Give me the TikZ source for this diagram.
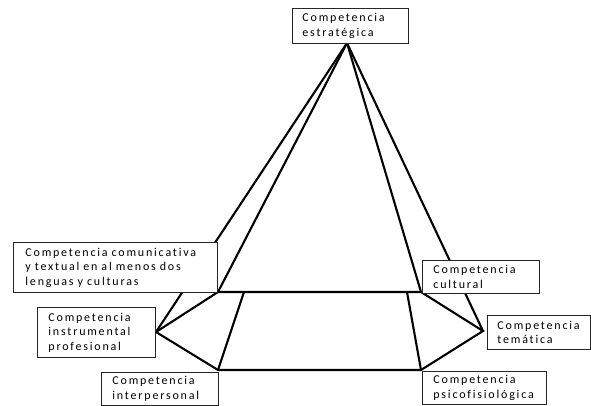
\documentclass[tikz,border=0pt]{standalone}
\usepackage{fontspec}
\setmainfont{Carlito}[LetterSpace=15, Ligatures={NoCommon}]
\begin{document}
\begin{tikzpicture}[x=1pt,y=-1pt,
  lbl/.style={draw=black!85, line width=0.9pt, fill=white, anchor=north west,
    align=left, font=\fontsize{12}{14.5}\selectfont, inner ysep=0pt},
  edge/.style={line width=2.1pt, line join=miter, line cap=round}]
\useasboundingbox (0,0) rectangle (591,406);

% corners of the base
\coordinate (apex) at (347,43);
\coordinate (tl) at (218,292);
\coordinate (tr) at (421,292);
\coordinate (bl) at (218,370);
\coordinate (br) at (421,370);
\coordinate (lv) at (156,332);
\coordinate (rv) at (483,331);
\coordinate (itl) at (244,292);
\coordinate (itr) at (407,292);

% faces of the pyramid
\draw[edge] (apex) -- (lv);
\draw[edge] (apex) -- (tl);
\draw[edge] (apex) -- (tr);
\draw[edge] (apex) -- (rv);
% base
\draw[edge] (tl) -- (tr) -- (rv) -- (br) -- (bl) -- (lv) -- cycle;
\draw[edge] (itl) -- (bl);
\draw[edge] (itr) -- (br);

% labels
\node[lbl, minimum width=116pt, minimum height=35pt, inner xsep=10pt,
  text width=96pt] (estr) at (292,8) {Competencia\\estratégica};
\node[lbl, minimum width=204pt, minimum height=50pt, inner xsep=12pt,
  text width=180pt] (comu) at (13,242)
  {Competencia comunicativa\\y textual en al menos dos\\lenguas y culturas};
\node[lbl, minimum width=118pt, minimum height=50pt, inner xsep=11pt,
  text width=96pt] (instr) at (37,307) {Competencia\\instrumental\\profesional};
\node[lbl, minimum width=117pt, minimum height=33pt, inner xsep=11pt,
  text width=95pt] (inter) at (101,372) {Competencia\\interpersonal};
\node[lbl, minimum width=117pt, minimum height=33pt, inner xsep=11pt,
  text width=95pt] (cult) at (422,260) {Competencia\\cultural};
\node[lbl, minimum width=103pt, minimum height=34pt, inner xsep=10pt,
  text width=83pt] (tema) at (487,315) {Competencia\\temática};
\node[lbl, minimum width=124pt, minimum height=33pt, inner xsep=11pt,
  text width=102pt] (psico) at (422,371) {Competencia\\psicofisiológica};
\end{tikzpicture}
\end{document}
